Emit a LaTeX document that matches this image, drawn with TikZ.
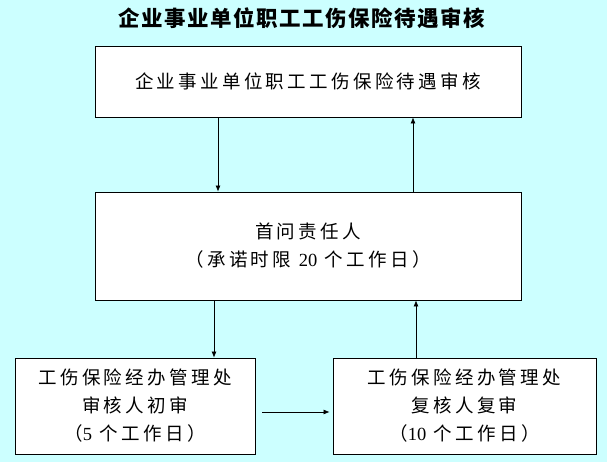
\documentclass[tikz,border=0pt]{standalone}
\usepackage{fontspec}
\usetikzlibrary{arrows.meta}
\newfontfamily\cjk[LetterSpace=18]{Noto Sans CJK SC}
\newfontfamily\cjktitle[LetterSpace=7]{Noto Sans CJK SC}
\newfontfamily\numfont{Liberation Serif}
\definecolor{bgcyan}{RGB}{204,255,255}
\begin{document}
\begin{tikzpicture}[x=1pt,y=-1pt,
stepbox/.style = {draw=black,line width=0.8pt,fill=white,inner sep=0pt,
        align=center,font=\cjk\fontsize{18.5}{28}\selectfont},
flow/.style = {line width=0.7pt,-{Latex[length=6pt,width=5pt]}},
]

        \fill[bgcyan] (0,0) rectangle (607,462);
        \useasboundingbox (0,0) rectangle (607,462);

        \coordinate (Title_C) at ( 302, 18 );
        \coordinate (Apply_C) at ( 308, 81.5 );
        \coordinate (First_C) at ( 308, 246 );
        \coordinate (Check_C) at ( 135, 406 );
        \coordinate (Recheck_C) at ( 464.5, 406 );

        \node (title) at (Title_C) {\cjktitle\bfseries\fontsize{21.5}{24}\selectfont 企业事业单位职工工伤保险待遇审核};

        \node [stepbox,minimum width=426pt,minimum height=71pt] (apply) at (Apply_C)
            {企业事业单位职工工伤保险待遇审核};
        \node [stepbox,minimum width=426pt,minimum height=108pt] (first) at (First_C)
            {首问责任人\\（承诺时限 {\numfont 20} 个工作日）};
        \node [stepbox,minimum width=240pt,minimum height=96pt] (check) at (Check_C)
            {工伤保险经办管理处\\审核人初审\\（{\numfont 5} 个工作日）};
        \node [stepbox,minimum width=263pt,minimum height=96pt] (recheck) at (Recheck_C)
            {工伤保险经办管理处\\复核人复审\\（{\numfont 10} 个工作日）};

        % up and down between the boxes
        \draw[flow] ([xshift=-90pt]apply.south) -- ([xshift=-90pt]apply.south |- first.north);
        \draw[flow] ([xshift=105pt]first.north) -- ([xshift=105pt]first.north |- apply.south);
        \draw[flow] ([xshift=-94pt]first.south) -- ([xshift=-94pt]first.south |- check.north);
        \draw[flow] ([xshift=108pt]first.south |- recheck.north) -- ([xshift=108pt]first.south);
        \draw[flow,shorten <=7pt,shorten >=3pt] ([yshift=-6pt]check.east) -- ([yshift=-6pt]recheck.west);

    \end{tikzpicture}
\end{document}
